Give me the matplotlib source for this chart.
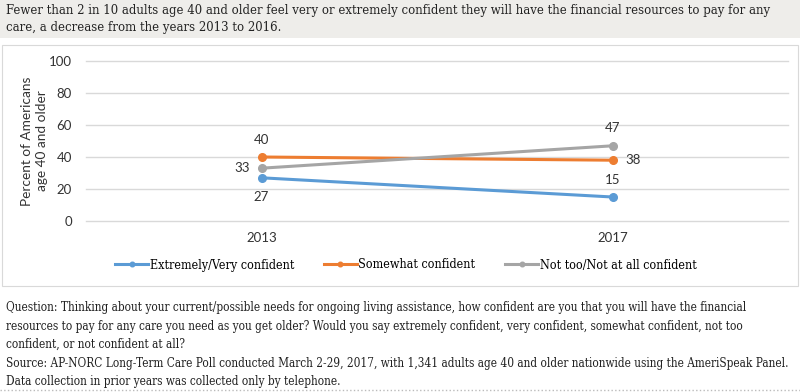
import matplotlib
matplotlib.use("Agg")
import matplotlib.pyplot as plt
from matplotlib.patches import Rectangle
from matplotlib.lines import Line2D

years = ["2013", "2017"]
series_names = ["Extremely/Very confident", "Somewhat confident", "Not too/Not at all confident"]
extremely_very = [27, 15]
somewhat = [40, 38]
not_too = [33, 47]
colors = ["#5b9bd5", "#ed7d31", "#a5a5a5"]
yticks = [0, 20, 40, 60, 80, 100]

title = ("Fewer than 2 in 10 adults age 40 and older feel very or extremely confident they will have the financial resources to pay for any\n"
         "care, a decrease from the years 2013 to 2016.")
footnote = ("Question: Thinking about your current/possible needs for ongoing living assistance, how confident are you that you will have the financial\n"
            "resources to pay for any care you need as you get older? Would you say extremely confident, very confident, somewhat confident, not too\n"
            "confident, or not confident at all?\n"
            "Source: AP-NORC Long-Term Care Poll conducted March 2-29, 2017, with 1,341 adults age 40 and older nationwide using the AmeriSpeak Panel.\n"
            "Data collection in prior years was collected only by telephone.")

serif = "DejaVu Serif"
sans = "Lato"
fig = plt.figure(figsize=(8, 3.92), dpi=100)
W, H = 800, 392

def fx(px):
    return px / W

def fy(py):
    return 1 - py / H

# title band
fig.patches.append(Rectangle((0, fy(38)), 1, 38 / H, transform=fig.transFigure,
                             facecolor="#eeedea", edgecolor="none", zorder=0))
# chart panel border
fig.patches.append(Rectangle((fx(2), fy(286)), fx(796), (286 - 45) / H, transform=fig.transFigure,
                             facecolor="none", edgecolor="#d9d9d9", linewidth=0.8, zorder=0))
fig.text(fx(6), fy(4), title, ha="left", va="top", fontsize=9.35, family=serif,
         fontstretch="condensed", linespacing=1.45, color="#222222")
fig.text(fx(6), fy(301), footnote, ha="left", va="top", fontsize=8.5, family=serif,
         fontstretch="condensed", linespacing=1.56, color="#222222")
fig.add_artist(Line2D([0, 1], [fy(390), fy(390)], transform=fig.transFigure,
                      color="#bbbbbb", linestyle=":", linewidth=1))

ax = fig.add_axes([fx(86), fy(221), fx(788 - 86), (221 - 61) / H])
ax.set_zorder(2)
ax.patch.set_alpha(0)
x = [0, 1]
data = [extremely_very, somewhat, not_too]
for vals, c, name in zip(data, colors, series_names):
    ax.plot(x, vals, color=c, linewidth=2.2, marker="o", markersize=5.5, label=name, zorder=3)

ax.set_xlim(-0.5, 1.5)
ax.set_ylim(0, 100)
ax.set_yticks(yticks)
ax.set_xticks(x)
ax.set_xticklabels(years)
ax.grid(axis="y", color="#d9d9d9", linewidth=1)
for gl in ax.get_ygridlines():
    gl.set_clip_on(False)
ax.set_axisbelow(True)
for s in ax.spines.values():
    s.set_visible(False)
ax.tick_params(length=0, labelsize=9.5, colors="#333333")
for lab in ax.get_xticklabels() + ax.get_yticklabels():
    lab.set_family(sans)
ax.tick_params(axis="x", pad=8)
ax.tick_params(axis="y", pad=10)
ax.set_ylabel("Percent of Americans\nage 40 and older", fontsize=9.8, family=sans,
              color="#333333", labelpad=1, linespacing=1.3)

lab_kw = dict(fontsize=9.5, color="#333333", family=sans)
# blue
ax.annotate(str(extremely_very[0]), (0, extremely_very[0]), xytext=(0, -14), textcoords="offset points", ha="center", va="center", **lab_kw)
ax.annotate(str(extremely_very[1]), (1, extremely_very[1]), xytext=(0, 12.5), textcoords="offset points", ha="center", va="center", **lab_kw)
# orange
ax.annotate(str(somewhat[0]), (0, somewhat[0]), xytext=(0, 12.5), textcoords="offset points", ha="center", va="center", **lab_kw)
ax.annotate(str(somewhat[1]), (1, somewhat[1]), xytext=(15, 0), textcoords="offset points", ha="center", va="center", **lab_kw)
# gray
ax.annotate(str(not_too[0]), (0, not_too[0]), xytext=(-14, 0), textcoords="offset points", ha="center", va="center", **lab_kw)
ax.annotate(str(not_too[1]), (1, not_too[1]), xytext=(0, 12.5), textcoords="offset points", ha="center", va="center", **lab_kw)

leg = fig.legend(loc="center left", bbox_to_anchor=(fx(104), fy(265)), ncol=3, frameon=False,
                 prop={"family": serif, "size": 9.0, "stretch": "condensed"},
                 handlelength=2.6, handletextpad=0.15, columnspacing=2.4, markerscale=0.6)

fig.savefig("out.png", dpi=100)
